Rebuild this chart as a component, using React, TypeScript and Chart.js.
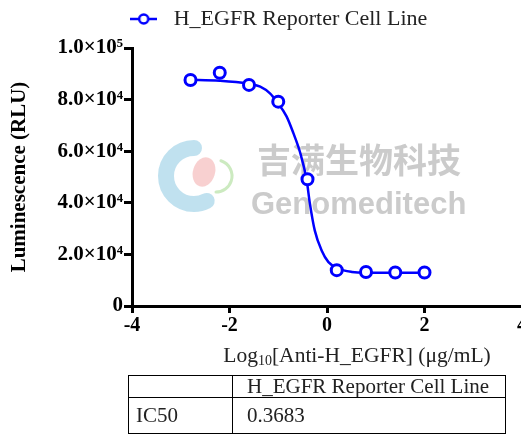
import React, { useEffect, useRef } from "react";
import { Chart, registerables } from "chart.js";

Chart.register(...registerables);

const seriesLabel = "H_EGFR Reporter Cell Line";
const logConcentration = [-2.8, -2.2, -1.6, -1.0, -0.4, 0.2, 0.8, 1.4, 2.0];
const luminescence = [87600, 90400, 85700, 79200, 49100, 13900, 13200, 13000, 13000];
const fitLogConcentration = [-2.85, -2.2, -1.63, -1.37, -1.17, -1.03, -0.83, -0.69, -0.55, -0.42, -0.35, -0.25, -0.11, 0.03, 0.23, 0.51, 0.78, 2.01];
const fitLuminescence = [87700, 87300, 86200, 85000, 82400, 79200, 73500, 67000, 59400, 49100, 39600, 29200, 21500, 17000, 14500, 13200, 12900, 12900];
const yTickValues = [0, 20000, 40000, 60000, 80000, 100000];
const yTickLabels = ["0", "2.0×10⁴", "4.0×10⁴", "6.0×10⁴", "8.0×10⁴", "1.0×10⁵"];
const xTickValues = [-4, -2, 0, 2, 4];
const xTickLabels = ["-4", "-2", "0", "2", "4"];
const yAxisTitle = "Luminescence (RLU)";
const xTitleParts = ["Log", "10", "[Anti-H_EGFR] (μg/mL)"];
const tableHeader = ["", "H_EGFR Reporter Cell Line"];
const tableRow = ["IC50", "0.3683"];
const watermarkCn = "吉满生物科技";
const watermarkEn = "Genomeditech";

const BLUE = "#0000ff";
const SERIF = "'Liberation Serif', 'Times New Roman', serif";

function makeLegendMarker() {
  const c = document.createElement("canvas");
  c.width = 27;
  c.height = 14;
  const g = c.getContext("2d")!;
  g.strokeStyle = BLUE;
  g.lineWidth = 2.5;
  g.beginPath();
  g.moveTo(0, 7);
  g.lineTo(27, 7);
  g.stroke();
  g.fillStyle = "#fff";
  g.beginPath();
  g.arc(13.5, 7, 4.5, 0, Math.PI * 2);
  g.fill();
  g.stroke();
  return c;
}

const decorPlugin = {
  id: "decor",
  beforeDatasetsDraw(chart: any) {
    const { ctx, chartArea } = chart;
    const L = chartArea.left;
    const T = chartArea.top;
    ctx.save();
    // logo approximation
    ctx.lineCap = "round";
    ctx.strokeStyle = "rgba(140,200,225,0.55)";
    ctx.lineWidth = 16;
    ctx.beginPath();
    ctx.arc(L + 62, T + 128, 28, -Math.PI * 0.5, Math.PI * 0.35, true);
    ctx.stroke();
    ctx.fillStyle = "rgba(240,150,150,0.45)";
    ctx.beginPath();
    ctx.ellipse(L + 72, T + 124, 11, 15, 0.3, 0, Math.PI * 2);
    ctx.fill();
    ctx.strokeStyle = "rgba(170,220,150,0.6)";
    ctx.lineWidth = 3;
    ctx.beginPath();
    ctx.arc(L + 84, T + 128, 16, -Math.PI * 0.4, Math.PI * 0.5);
    ctx.stroke();
    // watermark text
    ctx.fillStyle = "rgba(185,185,185,0.75)";
    ctx.textBaseline = "middle";
    ctx.textAlign = "left";
    ctx.font = "bold 34px 'Noto Sans CJK SC'";
    ctx.fillText(watermarkCn, L + 125, T + 112);
    ctx.font = "bold 31px 'Liberation Sans', Arial, sans-serif";
    ctx.textBaseline = "alphabetic";
    ctx.fillText(watermarkEn, L + 119, T + 166);
    ctx.restore();
  },
  afterDraw(chart: any) {
    const { ctx, chartArea } = chart;
    const cx = (chartArea.left + chartArea.right) / 2 + 30;
    const y = chartArea.bottom + 56;
    ctx.save();
    ctx.fillStyle = "#222";
    ctx.textBaseline = "alphabetic";
    const big = `21.5px ${SERIF}`;
    const small = `14px ${SERIF}`;
    ctx.font = big;
    const w0 = ctx.measureText(xTitleParts[0]).width;
    const w2 = ctx.measureText(xTitleParts[2]).width;
    ctx.font = small;
    const w1 = ctx.measureText(xTitleParts[1]).width;
    let x = cx - (w0 + w1 + w2) / 2;
    ctx.textAlign = "left";
    ctx.font = big;
    ctx.fillText(xTitleParts[0], x, y);
    x += w0;
    ctx.font = small;
    ctx.fillText(xTitleParts[1], x, y + 3);
    x += w1;
    ctx.font = big;
    ctx.fillText(xTitleParts[2], x, y);
    ctx.restore();
  },
};

export default function App() {
  const ref = useRef<HTMLCanvasElement>(null);

  useEffect(() => {
    const marker = makeLegendMarker();
    const chart = new Chart(ref.current!, {
      type: "scatter",
      data: {
        datasets: [
          {
            label: seriesLabel,
            data: logConcentration.map((x, i) => ({ x, y: luminescence[i] })),
            showLine: false,
            pointStyle: "circle",
            pointRadius: 5.5,
            pointBorderWidth: 3,
            pointBackgroundColor: "#fff",
            pointBorderColor: BLUE,
            borderColor: BLUE,
            backgroundColor: "#fff",
          },
          {
            label: "fit",
            data: fitLogConcentration.map((x, i) => ({ x, y: fitLuminescence[i] })),
            showLine: true,
            pointRadius: 0,
            borderWidth: 2.5,
            borderColor: BLUE,
            cubicInterpolationMode: "monotone",
          },
        ],
      },
      options: {
        animation: false,
        responsive: false,
        layout: { padding: 0 },
        plugins: {
          tooltip: { enabled: false },
          legend: {
            display: true,
            position: "top",
            labels: {
              usePointStyle: true,
              pointStyleWidth: 38,
              padding: 8,
              color: "#222",
              font: { family: SERIF, size: 22 },
              generateLabels: () => [
                {
                  text: seriesLabel,
                  pointStyle: marker,
                  fillStyle: "#fff",
                  strokeStyle: BLUE,
                  lineWidth: 0,
                  hidden: false,
                  datasetIndex: 0,
                  fontColor: "#222",
                } as any,
              ],
            },
          },
        },
        scales: {
          x: {
            type: "linear",
            position: "bottom",
            min: -4,
            max: 4,
            afterFit: (s: any) => {
              s.height = 129;
            },
            afterBuildTicks: (s: any) => {
              s.ticks = xTickValues.map((v) => ({ value: v }));
            },
            ticks: {
              callback: (v: any) => xTickLabels[xTickValues.indexOf(Number(v))],
              font: { family: SERIF, size: 20, weight: "bold" },
              color: "#000",
              padding: 1,
              maxRotation: 0,
              autoSkip: false,
            },
            grid: {
              display: true,
              drawOnChartArea: false,
              drawTicks: true,
              tickLength: 7,
              tickWidth: 3,
              color: "#000",
            },
            border: { display: true, color: "#000", width: 3 },
          },
          xT: {
            type: "linear",
            position: "top",
            display: true,
            afterFit: (s: any) => {
              s.height = 8;
            },
            grid: { display: false },
            ticks: { display: false },
            border: { display: false },
          },
          y: {
            type: "linear",
            position: "left",
            min: 0,
            max: 100000,
            afterFit: (s: any) => {
              s.width = 132;
            },
            afterBuildTicks: (s: any) => {
              s.ticks = yTickValues.map((v) => ({ value: v }));
            },
            ticks: {
              callback: (v: any) => yTickLabels[yTickValues.indexOf(Number(v))],
              font: { family: SERIF, size: 21, weight: "bold" },
              color: "#000",
              padding: 1,
              autoSkip: false,
            },
            grid: {
              display: true,
              drawOnChartArea: false,
              drawTicks: true,
              tickLength: 8,
              tickWidth: 3,
              color: "#000",
            },
            border: { display: true, color: "#000", width: 3 },
            title: {
              display: true,
              text: yAxisTitle,
              color: "#000",
              font: { family: SERIF, size: 21, weight: "bold" },
              padding: { top: 7, bottom: 0 },
            },
          },
          yR: {
            type: "linear",
            position: "right",
            display: true,
            afterFit: (s: any) => {
              s.width = 30;
            },
            grid: { display: false },
            ticks: { display: false },
            border: { display: false },
          },
        },
      },
      plugins: [decorPlugin],
    });
    return () => chart.destroy();
  }, []);

  const cell: React.CSSProperties = {
    border: "1.5px solid #000",
    padding: "0 0 0 7px",
    textAlign: "left",
    fontFamily: SERIF,
    fontSize: 21,
    color: "#222",
    lineHeight: 1,
    fontWeight: "normal",
    whiteSpace: "nowrap",
    overflow: "hidden",
  };

  return (
    <div style={{ position: "absolute", left: 0, top: 0, width: 521, height: 435, overflow: "hidden", background: "#fff" }}>
      <canvas ref={ref} width={552} height={435} style={{ width: 552, height: 435, display: "block" }} />
      <table
        style={{
          position: "absolute",
          left: 128,
          top: 375,
          width: 378,
          borderCollapse: "collapse",
          tableLayout: "fixed",
        }}
      >
        <tbody>
          <tr style={{ height: 22 }}>
            <td style={{ ...cell, width: 96 }}>{tableHeader[0]}</td>
            <td style={{ ...cell, paddingLeft: 14 }}>{tableHeader[1]}</td>
          </tr>
          <tr style={{ height: 36 }}>
            <td style={{ ...cell, width: 96 }}>{tableRow[0]}</td>
            <td style={{ ...cell, paddingLeft: 14 }}>{tableRow[1]}</td>
          </tr>
        </tbody>
      </table>
    </div>
  );
}
